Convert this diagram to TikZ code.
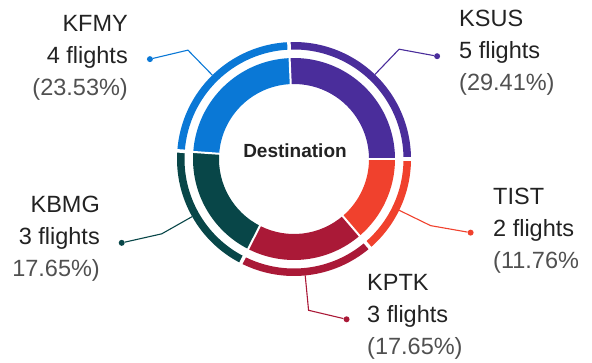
\documentclass[tikz,border=0pt]{standalone}
\usepackage{fontspec}
\setmainfont{Liberation Sans}
\usepackage{tikz}
\usepackage{xcolor}
\usetikzlibrary{calc}
\definecolor{kfmy}{HTML}{0A78D6}
\definecolor{ksus}{HTML}{4A2D9B}
\definecolor{tist}{HTML}{F0412D}
\definecolor{kptk}{HTML}{AA1937}
\definecolor{kbmg}{HTML}{084648}
\definecolor{labeltext}{HTML}{222222}
\definecolor{pctgray}{HTML}{505050}
\newcommand{\pcttext}[1]{\textcolor{pctgray}{#1}}
\tikzset{
    seg-label/.style = {inner sep=0pt, font=\fontsize{23.5}{32}\selectfont, text=labeltext},
    leader-line/.style = {line width=1.1pt},
    leader-dot/.style = {circle, inner sep=0pt, minimum size=6pt},
}

\begin{document}
\begin{tikzpicture}[x=1pt, y=1pt]
\useasboundingbox (0,0) rectangle (592,362);
\coordinate (c) at (294,203);
% inner and outer rings
\foreach \a/\b/\col in {92.5/0/ksus, 0/-49.5/tist, -49.5/-117/kptk, -117/-184/kbmg, 176/92.5/kfmy}{
    \fill[\col] ($(c)+(\a:101)$) arc[start angle=\a, end angle=\b, radius=101]
        -- ($(c)+(\b:75)$) arc[start angle=\b, end angle=\a, radius=75] -- cycle;
    \fill[\col] ($(c)+(\a:117)$) arc[start angle=\a, end angle=\b, radius=117]
        -- ($(c)+(\b:109.5)$) arc[start angle=\b, end angle=\a, radius=109.5] -- cycle;
}
\foreach \a in {92.5, 0, -49.5, -117, 176}{
    \draw[white, line width=2pt] ($(c)+(\a:73)$) -- ($(c)+(\a:103)$);
    \draw[white, line width=3.5pt] ($(c)+(\a:107)$) -- ($(c)+(\a:119)$);
}
\node[font=\bfseries\fontsize{19}{21}\selectfont, text=labeltext] (title) at (295,211) {Destination};

% leaders
\foreach \name/\ang/\dx/\dy in {kfmy/134.25/-38/-9, ksus/46.25/38/-7, kbmg/-150.5/-40/-9, tist/-26/40/-7, kptk/-84.5/38/-9}{
    \coordinate (\name-start) at ($(c)+(\ang:117)$);
    \coordinate (\name-bend) at ($(c)+(\ang:152)$);
    \node[leader-dot, fill=\name] (\name-dot) at ($(\name-bend)+(\dx,\dy)$) {};
    \draw[leader-line, \name] (\name-start) -- (\name-bend) -- (\name-dot);
}

% labels
\node[seg-label, anchor=north east, align=right] (kfmy-label) at (128,347) {KFMY\\4 flights\\\pcttext{(23.53\%)}};
\node[seg-label, anchor=north west, align=left] (ksus-label) at (459,352) {KSUS\\5 flights\\\pcttext{(29.41\%)}};
\node[seg-label, anchor=north east, align=right] (kbmg-label) at (100,166) {KBMG\\3 flights\\\pcttext{17.65\%)}};
\node[seg-label, anchor=north west, align=left] (tist-label) at (493,174) {TIST\\2 flights\\\pcttext{(11.76\%}};
\node[seg-label, anchor=north west, align=left] (kptk-label) at (367,88) {KPTK\\3 flights\\\pcttext{(17.65\%)}};
\end{tikzpicture}
\end{document}
